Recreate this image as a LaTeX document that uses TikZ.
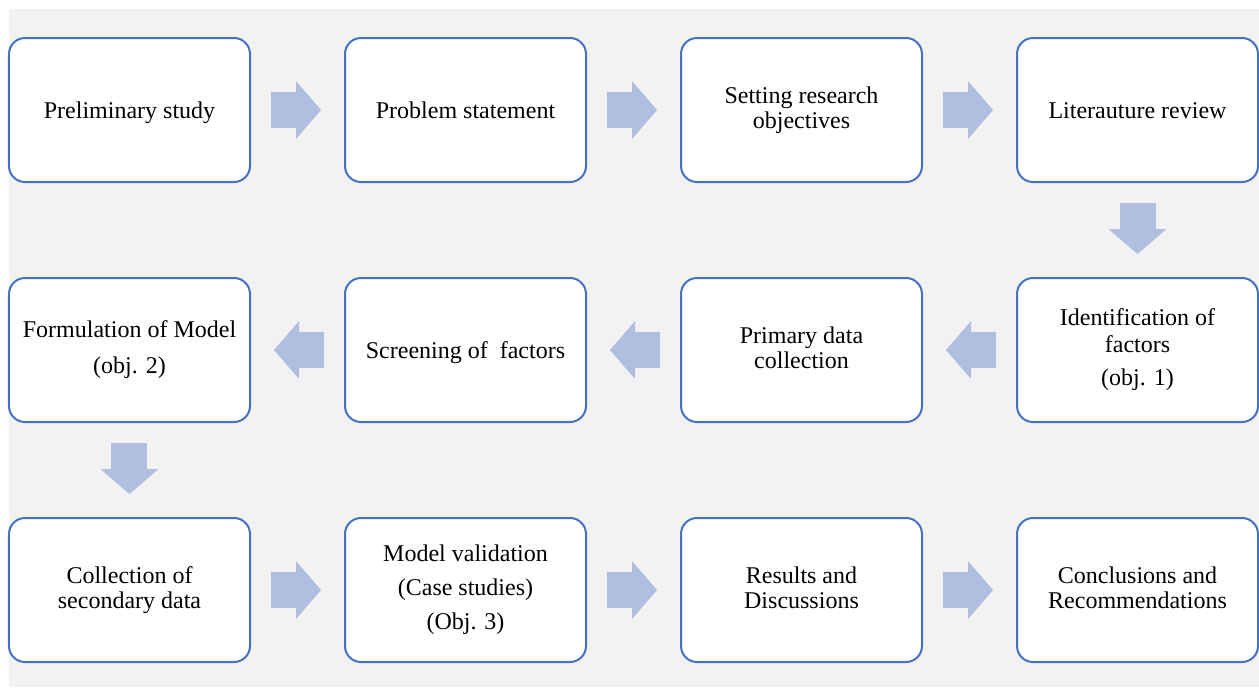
\documentclass[tikz,border=0pt]{standalone}
\usepackage{fontspec}
\setmainfont{Liberation Serif}
\usetikzlibrary{positioning,arrows.meta}
\definecolor{boxblue}{HTML}{4472C4}
\definecolor{arrowblue}{HTML}{B0BEE0}
\definecolor{pagegray}{HTML}{F2F2F2}
\newcommand{\topstrut}{\rule{0pt}{10.7pt}}
\newcommand{\tallstrut}{\rule{0pt}{14.8pt}}
\newcommand{\botstrut}{\rule[-2.6pt]{0pt}{2.6pt}}

\begin{document}
\begin{tikzpicture}[every node/.style={align=center},
	stage/.style={draw=boxblue, line width=1pt, fill=white, rounded corners=8pt, minimum width=120.5pt, minimum height=72pt, outer sep=0pt, font=\fontsize{12}{12.5}\selectfont, execute at begin node=\topstrut, execute at end node=\botstrut},
	stacked/.style={stage, execute at begin node=\tallstrut},
	flow/.style={draw=arrowblue, line width=18pt, -{Triangle[length=12.5pt,width=29pt,line width=0pt]}, shorten <=10.5pt, shorten >=12pt},
	node distance=48pt and 47.5pt]
		\useasboundingbox (-64.75pt,55pt) rectangle (564.75pt,-288.5pt);
		\fill[pagegray] (-60.25pt,50.5pt) rectangle (564.75pt,-288.5pt); % background
		% first row, left to right
		\node[stage] (prelim) at (0,0) {Preliminary study};
		\node[stage, right=of prelim] (problem) {Problem statement};
		\node[stacked, right=of problem] (objectives) {Setting research \\ objectives};
		\node[stage, right=of objectives] (litrev) {Literauture review};
		% second row, right to left
		\node[stacked, below=of litrev] (identify) {Identification of \\[1pt] factors \\[4pt] (obj. 1)};
		\node[stacked, left=of identify] (primary) {Primary data \\ collection};
		\node[stage, left=of primary] (screening) {Screening of ~factors};
		\node[stacked, left=of screening] (formulation) {Formulation of Model \\[5.5pt] (obj. 2)};
		% third row, left to right
		\node[stacked, below=of formulation] (secondary) {Collection of \\ secondary data};
		\node[stacked, right=of secondary] (validation) {Model validation \\[4.5pt] (Case studies) \\[4.5pt] (Obj. 3)};
		\node[stacked, right=of validation] (results) {Results and \\ Discussions};
		\node[stacked, right=of results] (conclusions) {Conclusions and \\ Recommendations};
		% block arrows
		\draw[flow] (prelim) -- (problem);
		\draw[flow] (problem) -- (objectives);
		\draw[flow] (objectives) -- (litrev);
		\draw[flow] (litrev) -- (identify);
		\draw[flow] (identify) -- (primary);
		\draw[flow] (primary) -- (screening);
		\draw[flow] (screening) -- (formulation);
		\draw[flow] (formulation) -- (secondary);
		\draw[flow] (secondary) -- (validation);
		\draw[flow] (validation) -- (results);
		\draw[flow] (results) -- (conclusions);
	\end{tikzpicture}
\end{document}
